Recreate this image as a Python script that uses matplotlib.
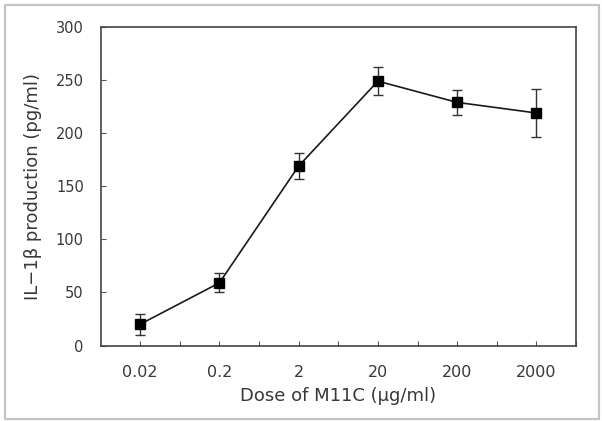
import matplotlib
matplotlib.use("Agg")
import matplotlib.pyplot as plt
from matplotlib.patches import Rectangle
import numpy as np

doses = ["0.02", "0.2", "2", "20", "200", "2000"]
il1b = [20, 59, 169, 249, 229, 219]
err = [10, 9, 12, 13, 12, 23]
yticks = [0, 50, 100, 150, 200, 250, 300]

plt.rcParams['font.family'] = ['DejaVu Sans']
txt = '#383838'

fig = plt.figure(figsize=(6.02, 4.21), dpi=100)
fig.patches.append(Rectangle((5/602, 1-419/421), 594/602, 414/421, transform=fig.transFigure,
                             fill=False, edgecolor='#c4c4c4', linewidth=1.6))
ax = fig.add_axes([100.5/602, 1-345.5/421, 475.5/602, 318.5/421])

x = np.arange(len(doses))
ax.errorbar(x, il1b, yerr=err, color='#1a1a1a', linewidth=1.2, marker='s', markersize=7.5,
            markerfacecolor='black', markeredgecolor='black', ecolor='#333333',
            elinewidth=1.0, capsize=3.5, capthick=1.0)

ax.set_xlim(-0.5, len(doses) - 0.5)
ax.set_ylim(0, 300)
ax.set_yticks(yticks)
ax.set_yticklabels([str(v) for v in yticks], fontsize=10.5, color=txt)
ax.set_xticks(x)
ax.set_xticklabels(doses, fontsize=11.5, color=txt)
ax.set_xticks(np.arange(-0.5, len(doses), 1.0)[1:], minor=True)
ax.tick_params(axis='both', which='both', direction='in', length=3.5, width=0.8, color='#555555')
ax.tick_params(axis='x', which='major', pad=14)
ax.tick_params(axis='y', which='major', pad=12)
for s in ax.spines.values():
    s.set_color('#444444')
    s.set_linewidth(1.2)

ax.set_xlabel("Dose of M11C (\u03bcg/ml)", fontsize=13, color=txt, labelpad=5)
ax.set_ylabel("IL\u22121\u03b2 production (pg/ml)", fontsize=13, color=txt, labelpad=10)

fig.savefig("out.png", dpi=100)
